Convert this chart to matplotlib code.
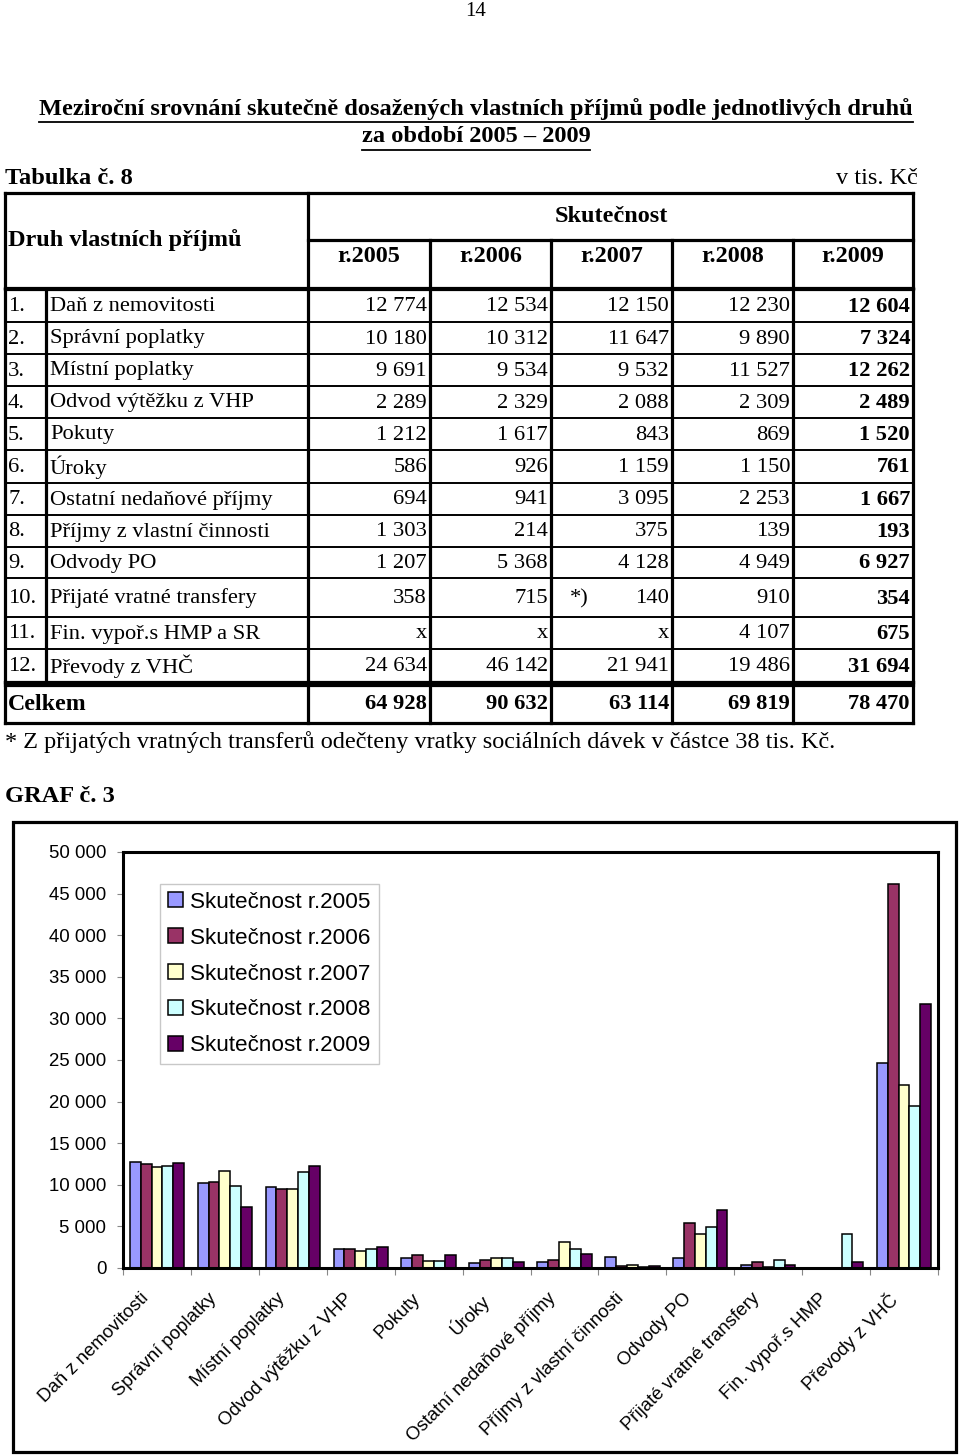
import numpy as np
import matplotlib
matplotlib.use("Agg")
import matplotlib.pyplot as plt
from matplotlib.patches import Rectangle

# ---------------- data ----------------
row_names = ["Daň z nemovitosti", "Správní poplatky", "Místní poplatky",
             "Odvod výtěžku z VHP", "Pokuty", "Úroky",
             "Ostatní nedaňové příjmy", "Příjmy z vlastní činnosti",
             "Odvody PO", "Přijaté vratné transfery", "Fin. vypoř.s HMP a SR",
             "Převody z VHČ"]
chart_labels = ["Daň z nemovitosti", "Správní poplatky", "Místní poplatky",
                "Odvod výtěžku z VHP", "Pokuty", "Úroky",
                "Ostatní nedaňové příjmy", "Příjmy z vlastní činnosti",
                "Odvody PO", "Přijaté vratné transfery", "Fin. vypoř.s HMP",
                "Převody z VHČ"]
years = ["r.2005", "r.2006", "r.2007", "r.2008", "r.2009"]
v2005 = [12774, 10180, 9691, 2289, 1212, 586, 694, 1303, 1207, 358, None, 24634]
v2006 = [12534, 10312, 9534, 2329, 1617, 926, 941, 214, 5368, 715, None, 46142]
v2007 = [12150, 11647, 9532, 2088, 843, 1159, 3095, 375, 4128, 140, None, 21941]
v2008 = [12230, 9890, 11527, 2309, 869, 1150, 2253, 139, 4949, 910, 4107, 19486]
v2009 = [12604, 7324, 12262, 2489, 1520, 761, 1667, 193, 6927, 354, 675, 31694]
totals = [64928, 90632, 63114, 69819, 78470]
series = [v2005, v2006, v2007, v2008, v2009]
legend_labels = ["Skutečnost " + y for y in years]
colors = ["#9999FF", "#993366", "#FFFFCC", "#CCFFFF", "#660066"]
y_ticks = [0, 5000, 10000, 15000, 20000, 25000, 30000, 35000, 40000, 45000, 50000]


def fmt(v):
    if v is None:
        return "x"
    return f"{v:,}".replace(",", " ")


SERIF = ["Liberation Serif", "DejaVu Serif"]
SANS = ["Liberation Sans", "DejaVu Sans"]

fig = plt.figure(figsize=(9.6, 14.56), dpi=100)
bg = fig.add_axes([0, 0, 1, 1])
bg.set_xlim(0, 960)
bg.set_ylim(1456, 0)
bg.axis("off")

# ---------------- header texts ----------------
bg.text(476, 11, "14", ha="center", va="center", family=SERIF, fontsize=15)
renderer = fig.canvas.get_renderer()
for txt, yy in [("Meziroční srovnání skutečně dosažených vlastních příjmů podle jednotlivých druhů", 109),
                ("za období 2005 – 2009", 137)]:
    t = bg.text(476, yy, txt, ha="center", va="center", family=SERIF,
                fontsize=17.6, fontweight="bold")
    bb = t.get_window_extent(renderer)
    bg.plot([bb.x0, bb.x1], [yy + 13, yy + 13], color="black", lw=1.3)

bg.text(5, 178, "Tabulka č. 8", ha="left", va="center", family=SERIF,
        fontsize=17.6, fontweight="bold")
bg.text(918, 178, "v tis. Kč", ha="right", va="center", family=SERIF, fontsize=17.5)

# ---------------- table ----------------
col_x = [5, 46, 308, 430, 551, 672, 793, 913]
row_y = [289, 322, 354, 386, 418, 450, 483, 515, 547, 578, 617, 649, 682]
tot_y = (685, 723)
hdr_top, hdr_mid, hdr_bot = 193, 240, 288
lw_thick = 2.3
lw_thin = 1.4
fs_body = 16.2
fs_head = 17.5

bg.plot([5, 913], [hdr_top, hdr_top], color="black", lw=lw_thick)
bg.plot([308, 913], [hdr_mid, hdr_mid], color="black", lw=lw_thick)
bg.plot([5, 913], [hdr_bot, hdr_bot], color="black", lw=lw_thick)
bg.text(8, 240, "Druh vlastních příjmů", ha="left", va="center", family=SERIF,
        fontsize=fs_head, fontweight="bold")
bg.text(611, 217, "Skutečnost", ha="center", va="center", family=SERIF,
        fontsize=fs_head, fontweight="bold")
for i, y in enumerate(years):
    cx = (col_x[2 + i] + col_x[3 + i]) / 2
    bg.text(cx, 257, y, ha="center", va="center", family=SERIF,
            fontsize=fs_head, fontweight="bold")
for x in [5, 308, 913]:
    bg.plot([x, x], [hdr_top, hdr_bot], color="black", lw=lw_thick)
for x in col_x[3:7]:
    bg.plot([x, x], [hdr_mid, hdr_bot], color="black", lw=lw_thick)

for y in row_y[1:-1]:
    bg.plot([5, 913], [y, y], color="black", lw=lw_thin)
bg.plot([5, 913], [row_y[0], row_y[0]], color="black", lw=lw_thick)
bg.plot([5, 913], [row_y[-1], row_y[-1]], color="black", lw=lw_thick)
for x in col_x:
    bg.plot([x, x], [row_y[0], row_y[-1]], color="black", lw=lw_thick)

for r, name in enumerate(row_names):
    cy = (row_y[r] + row_y[r + 1]) / 2 + 1
    bg.text(8, cy, f"{r + 1}.", ha="left", va="center", family=SERIF, fontsize=fs_body)
    bg.text(50, cy, name, ha="left", va="center", family=SERIF, fontsize=fs_body)
    for c, s in enumerate(series):
        bg.text(col_x[3 + c] - 3, cy, fmt(s[r]), ha="right", va="center",
                family=SERIF, fontsize=fs_body,
                fontweight="bold" if c == 4 else "normal")
    if r == 9:
        bg.text(570, cy, "*)", ha="left", va="center", family=SERIF, fontsize=fs_body)

bg.plot([5, 913], [tot_y[0], tot_y[0]], color="black", lw=lw_thick)
bg.plot([5, 913], [tot_y[1], tot_y[1]], color="black", lw=lw_thick)
for x in [5, 308] + col_x[3:]:
    bg.plot([x, x], [row_y[-1], tot_y[1]], color="black", lw=lw_thick)
tcy = (tot_y[0] + tot_y[1]) / 2
bg.text(8, tcy, "Celkem", ha="left", va="center", family=SERIF, fontsize=17.2,
        fontweight="bold")
for c, v in enumerate(totals):
    bg.text(col_x[3 + c] - 3, tcy, fmt(v), ha="right", va="center", family=SERIF,
            fontsize=16.2, fontweight="bold")

bg.text(5, 742, "* Z přijatých vratných transferů odečteny vratky sociálních dávek v částce 38 tis. Kč.",
        ha="left", va="center", family=SERIF, fontsize=17.5)
bg.text(5, 797, "GRAF č. 3", ha="left", va="center", family=SERIF, fontsize=17.6,
        fontweight="bold")

bg.add_patch(Rectangle((13, 822), 943, 630, fill=False, edgecolor="black", lw=2.3))

# ---------------- chart ----------------
W, H = 960, 1456
px0, px1, py0, py1 = 123, 938, 852, 1268
ax = fig.add_axes([px0 / W, (H - py1) / H, (px1 - px0) / W, (py1 - py0) / H])
ax.set_zorder(5)
x = np.arange(len(chart_labels))
bw = 0.16
for i, (s, col, lab) in enumerate(zip(series, colors, legend_labels)):
    vals = np.array([np.nan if v is None else v for v in s], dtype=float)
    ax.bar(x + (i - 2) * bw, vals, width=bw, color=col, edgecolor="black",
           linewidth=1.1, label=lab)
ax.set_xlim(-0.5, len(chart_labels) - 0.5)
ax.set_ylim(0, 50000)
ax.set_yticks(y_ticks)
ax.set_yticklabels([fmt(v) for v in y_ticks], family=SANS, fontsize=13.4)
ax.tick_params(axis="y", length=4, width=0.8, color="#888888", pad=8)
ax.set_xticks(x)
ax.set_xticklabels([])
ax.tick_params(axis="x", length=0)
ax.set_xticks(np.arange(-0.5, len(chart_labels)), minor=True)
ax.tick_params(axis="x", which="minor", length=5, width=0.8, color="#888888")
for xi, lab in zip(x, chart_labels):
    ax.annotate(lab, xy=(xi, 0), xycoords=("data", "axes fraction"),
                xytext=(-17, -22), textcoords="offset pixels",
                rotation=45, rotation_mode="anchor", ha="right", va="top",
                family=SANS, fontsize=13.4)
for sp in ax.spines.values():
    sp.set_linewidth(2.2)
    sp.set_color("black")

leg = ax.legend(loc="upper left", bbox_to_anchor=((160 - px0) / (px1 - px0), 1 - (884 - py0) / (py1 - py0)),
                prop={"family": SANS, "size": 16.2}, frameon=True, fancybox=False,
                edgecolor="#BBBBBB", handlelength=0.65, handleheight=0.65,
                handletextpad=0.35, labelspacing=0.66, borderpad=0.35,
                borderaxespad=0)
leg.get_frame().set_linewidth(1.0)

fig.savefig("out.png", dpi=100)
